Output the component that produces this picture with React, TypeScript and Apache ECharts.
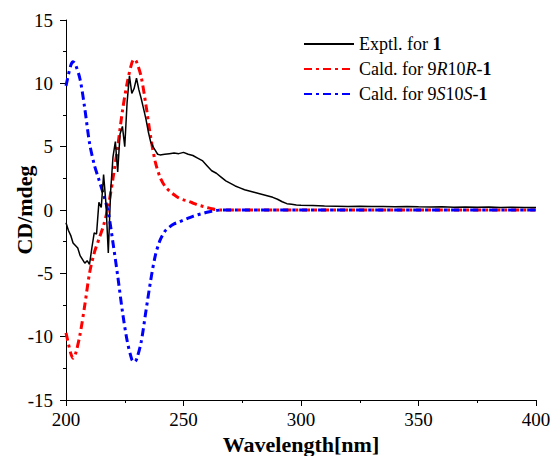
import React, { useEffect, useRef } from "react";
import * as echarts from "echarts";

const exptX = [200,201,202,203,204,205,206,207,208,209,210,211,212,213,214,215,216,217,218,219,220,221,222,223,224,225,226,227,228,229,230,231,232,233,234,235,236,237,238,239,240,242,244,246,248,250,252,254,256,258,260,262,264,266,268,270,272,274,276,278,280,282,284,286,288,290,292,294,296,298,300,305,310,315,320,325,330,335,340,345,350,355,360,365,370,375,380,385,390,395,400];
const exptY = [-1.0,-1.6,-2.0,-2.6,-2.8,-3.0,-3.6,-3.9,-4.2,-4.0,-4.3,-3.0,-1.8,-1.9,0.6,0.2,2.8,0.5,-3.4,1.5,4.2,5.4,3.0,6.0,6.6,5.0,8.5,10.6,9.2,9.6,10.4,9.5,8.8,8.0,7.2,6.2,5.4,5.0,4.7,4.4,4.35,4.4,4.45,4.5,4.45,4.55,4.4,4.3,4.1,3.9,3.5,3.1,2.9,2.6,2.3,2.1,1.9,1.75,1.6,1.5,1.4,1.3,1.2,1.1,1.0,0.85,0.65,0.5,0.45,0.4,0.38,0.35,0.32,0.3,0.28,0.3,0.27,0.28,0.25,0.27,0.25,0.24,0.25,0.22,0.24,0.22,0.23,0.2,0.22,0.2,0.2];

const calcX = [200,202,203,204,206,208,210,212,214,216,218,220,222,224,226,228,229,230,232,234,236,238,240,242,244,246,248,250,252,254,256,258,260,262,264,266,270,300,350,400];
const rrY = [-9.7,-11.3,-11.7,-11.4,-9.8,-7.5,-5.0,-3.4,-2.3,-1.2,0.3,2.5,5.0,7.8,10.0,11.6,11.9,11.7,10.5,8.3,5.8,3.8,2.6,1.9,1.5,1.2,0.95,0.8,0.7,0.55,0.4,0.3,0.2,0.1,0.03,0,0,0,0,0];
const ssY = [9.8,11.4,11.7,11.5,10.3,8.0,5.3,3.6,2.4,1.2,-0.2,-2.6,-5.2,-8.0,-10.3,-11.8,-12.0,-11.8,-10.4,-8.0,-5.6,-3.6,-2.4,-1.7,-1.35,-1.1,-0.95,-0.8,-0.65,-0.5,-0.38,-0.28,-0.18,-0.1,-0.04,0,0,0,0,0];

const names = ["Exptl. for 1", "Cald. for 9R10R-1", "Cald. for 9S10S-1"];
const legendRich: Record<string, string> = {
  "Exptl. for 1": "{n|Exptl. for }{b|1}",
  "Cald. for 9R10R-1": "{n|Cald. for 9}{i|R}{n|10}{i|R}{n|-}{b|1}",
  "Cald. for 9S10S-1": "{n|Cald. for 9}{i|S}{n|10}{i|S}{n|-}{b|1}",
};

const FONT = "Liberation Serif";

export default function App() {
  const ref = useRef<HTMLDivElement>(null);
  useEffect(() => {
    if (!ref.current) return;
    const chart = echarts.init(ref.current, undefined, { renderer: "svg" });
    const pair = (xs: number[], ys: number[]) => xs.map((x, i) => [x, ys[i]]);
    chart.setOption({
      animation: false,
      backgroundColor: "#fff",
      textStyle: { fontFamily: FONT },
      grid: { left: 66, right: 16, top: 20, bottom: 56, containLabel: false, outerBoundsMode: "none" },
      legend: {
        orient: "vertical",
        left: 303,
        top: 35,
        padding: 0,
        itemWidth: 50,
        itemHeight: 14,
        itemGap: 7,
        data: names,
        itemStyle: { opacity: 0 },
        formatter: (n: string) => legendRich[n],
        textStyle: {
          fontFamily: FONT,
          fontSize: 18,
          color: "#000",
          rich: {
            n: { fontFamily: FONT, fontSize: 18, color: "#000" },
            b: { fontFamily: FONT, fontSize: 18, color: "#000", fontWeight: "bold" },
            i: { fontFamily: FONT, fontSize: 18, color: "#000", fontStyle: "italic" },
          },
        },
      },
      xAxis: {
        type: "value",
        min: 200,
        max: 400,
        interval: 50,
        name: "Wavelength[nm]",
        nameLocation: "middle",
        nameGap: 33,
        nameMoveOverlap: false,
        nameTextStyle: { fontFamily: FONT, fontSize: 22, fontWeight: "bold", color: "#000" },
        axisLine: { show: true, onZero: false, lineStyle: { color: "#000", width: 1 } },
        axisTick: { show: true, length: 6, lineStyle: { color: "#000" } },
        minorTick: { show: true, splitNumber: 2, length: 3, lineStyle: { color: "#000" } },
        axisLabel: { fontFamily: FONT, fontSize: 19, color: "#000", margin: 10 },
        splitLine: { show: false },
      },
      yAxis: {
        type: "value",
        min: -15,
        max: 15,
        interval: 5,
        name: "CD/mdeg",
        nameLocation: "middle",
        nameGap: 31,
        nameMoveOverlap: false,
        nameRotate: 90,
        nameTextStyle: { fontFamily: FONT, fontSize: 22, fontWeight: "bold", color: "#000" },
        axisLine: { show: true, onZero: false, lineStyle: { color: "#000", width: 1 } },
        axisTick: { show: true, length: 6, lineStyle: { color: "#000" } },
        minorTick: { show: true, splitNumber: 2, length: 3, lineStyle: { color: "#000" } },
        axisLabel: { fontFamily: FONT, fontSize: 19, color: "#000", margin: 13 },
        splitLine: { show: false },
      },
      series: [
        {
          name: names[0],
          type: "line",
          symbol: "none",
          data: pair(exptX, exptY),
          lineStyle: { color: "#000", width: 1.5 },
          itemStyle: { color: "#000" },
          z: 3,
        },
        {
          name: names[1],
          type: "line",
          symbol: "none",
          smooth: 0.3,
          data: pair(calcX, rrY),
          lineStyle: { color: "#ff0000", width: 3, type: [8, 4, 3, 4] },
          itemStyle: { color: "#ff0000" },
          z: 2,
        },
        {
          name: names[2],
          type: "line",
          symbol: "none",
          smooth: 0.3,
          data: pair(calcX, ssY),
          lineStyle: { color: "#0000ff", width: 3, type: [8, 4, 3, 4] },
          itemStyle: { color: "#0000ff" },
          z: 2,
        },
      ],
    });
    return () => chart.dispose();
  }, []);
  return <div ref={ref} style={{ width: 552, height: 456, position: "absolute", left: 0, top: 0 }} />;
}
